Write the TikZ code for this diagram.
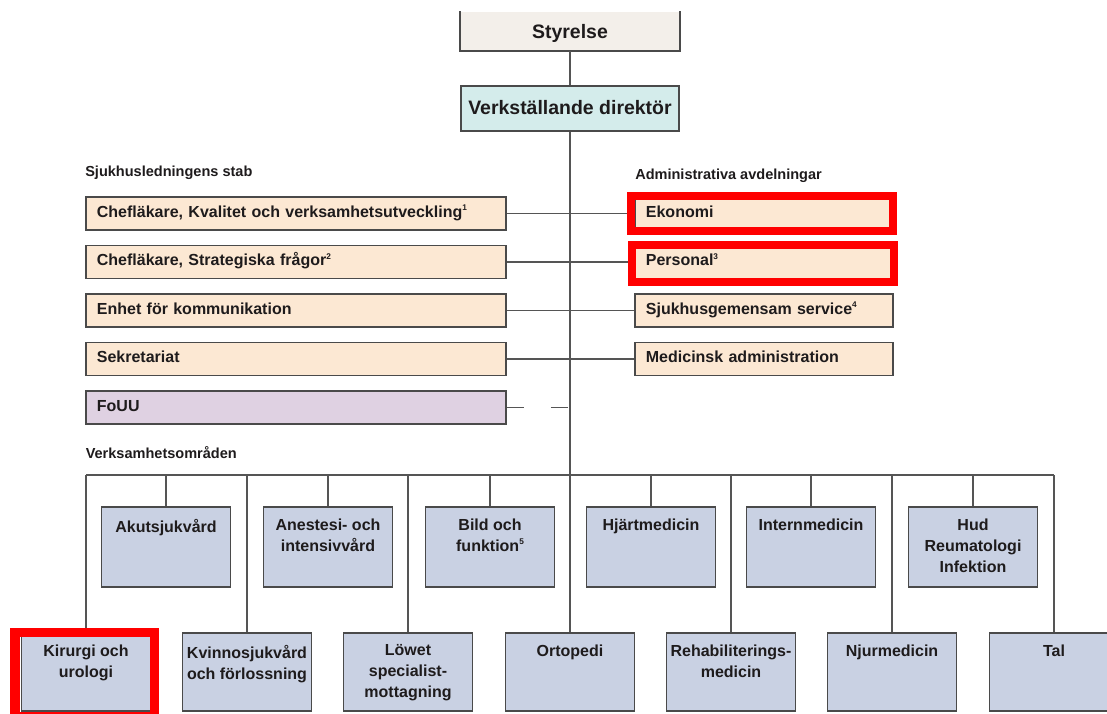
\documentclass[tikz,border=0pt]{standalone}
\usepackage{fontspec}
\setmainfont{Liberation Sans}
\usetikzlibrary{calc}
\newlength\px
\setlength\px{0.75pt}
\newcommand\fnmark[1]{\raisebox{0.42em}{\fontsize{6.2}{7}\selectfont #1}}
\definecolor{textgrey}{HTML}{1E1B1C}
\definecolor{linegrey}{HTML}{555555}
\definecolor{boxedge}{HTML}{4A4A4A}
\definecolor{stabfill}{HTML}{FCE8D3}
\definecolor{foufill}{HTML}{DFD1E2}
\definecolor{unitfill}{HTML}{C9D1E3}
\definecolor{vdfill}{HTML}{D4ECEB}
\definecolor{boardfill}{HTML}{F3EFEA}
\definecolor{markred}{HTML}{FF0000}

\begin{document}
\begin{tikzpicture}[x=1\px, y=-1\px,
  every node/.style={text=textgrey},
  topbox/.style={line width=1.8\px, minimum width=218\px, inner sep=0pt, font=\bfseries\fontsize{14.6}{17}\selectfont},
  stabbox/.style={draw=boxedge, line width=1.8\px, fill=stabfill, anchor=west, text width=398\px, inner xsep=11\px, inner ysep=0pt,
    minimum height=33\px, align=left, text height=0.75em, text depth=0.19em, font=\bfseries\fontsize{12}{14}\selectfont},
  adminbox/.style={stabbox, text width=236\px},
  unitbox/.style={draw=boxedge, line width=1.8\px, fill=unitfill, minimum width=129\px, inner sep=0pt},
  unittext/.style={anchor=north, align=center, inner sep=0pt, yshift=-12.5\px, font=\bfseries\fontsize{12}{15.75}\selectfont},
  heading/.style={anchor=west, inner sep=0pt, font=\bfseries\fontsize{10.9}{13}\selectfont},
  link/.style={draw=linegrey, line width=1.6\px},
  redmark/.style={draw=markred, line width=8\px}]
\useasboundingbox (0,0) rectangle (1107,714);

% ledning
\node[topbox, fill=boardfill, minimum height=38\px, text depth=0pt] (board) at (570,31) {Styrelse};
\draw[boxedge, line width=1.8\px] (board.north west) -- (board.south west) -- (board.south east) -- (board.north east);
\node[topbox, draw=boxedge, fill=vdfill, minimum height=45\px, text depth=0.2em] (vd) at (570,108.5) {Verkställande direktör};
\draw[link] (board.south) -- (vd.north);

% stab och administration
\node[heading] (stabhead) at (85,173) {Sjukhusledningens stab};
\node[heading] (adminhead) at (635,176) {Administrativa avdelningar};
\node[stabbox] (kval) at (85,213.5) {Chefläkare, Kvalitet och verksamhetsutveckling\fnmark{1}};
\node[stabbox] (strat) at (85,262) {Chefläkare, Strategiska frågor\fnmark{2}};
\node[stabbox] (komm) at (85,310.5) {Enhet för kommunikation};
\node[stabbox] (sekr) at (85,359) {Sekretariat};
\node[stabbox, fill=foufill] (fouu) at (85,407.5) {FoUU};
\node[adminbox] (eko) at (634,213.5) {Ekonomi};
\node[adminbox] (pers) at (634,262) {Personal\fnmark{3}};
\node[adminbox] (serv) at (634,310.5) {Sjukhusgemensam service\fnmark{4}};
\node[adminbox] (medadm) at (634,359) {Medicinsk administration};
\draw[link] (kval.east) -- (eko.west);
\draw[link] (strat.east) -- (pers.west);
\draw[link] (komm.east) -- (serv.west);
\draw[link] (sekr.east) -- (medadm.west);
\draw[link, dash pattern=on 17\px off 27\px] (fouu.east) -- (fouu.east -| vd.south);

% verksamhetsomraden
\node[heading] (verkhead) at (85.5,453) {Verksamhetsområden};
\coordinate (barL) at (86,475);
\coordinate (barR) at (1054,475);
\node[unitbox, minimum height=80\px, label={[unittext]north:Akutsjukvård}] (akut) at (166,547) {};
\node[unitbox, minimum height=80\px, label={[unittext]north:{Anestesi- och\\intensivvård}}] (anest) at (328,547) {};
\node[unitbox, minimum height=80\px, label={[unittext]north:{Bild och\\funktion\fnmark{5}}}] (bild) at (490,547) {};
\node[unitbox, minimum height=80\px, label={[unittext]north:Hjärtmedicin}] (hjart) at (651,547) {};
\node[unitbox, minimum height=80\px, label={[unittext]north:Internmedicin}] (intern) at (811,547) {};
\node[unitbox, minimum height=80\px, label={[unittext]north:{Hud\\Reumatologi\\Infektion}}] (hud) at (973,547) {};
\node[unitbox, minimum height=78\px, label={[unittext]north:{Kirurgi och\\urologi}}] (kir) at (86,672) {};
\node[unitbox, minimum height=78\px, label={[unittext]north:{Kvinnosjukvård\\och förlossning}}] (kvinno) at (247,672) {};
\node[unitbox, minimum height=78\px, label={[unittext]north:{Löwet\\specialist-\\mottagning}}] (lowet) at (408,672) {};
\node[unitbox, minimum height=78\px, label={[unittext]north:Ortopedi}] (orto) at (570,672) {};
\node[unitbox, minimum height=78\px, label={[unittext]north:{Rehabiliterings-\\medicin}}] (rehab) at (731,672) {};
\node[unitbox, minimum height=78\px, label={[unittext]north:Njurmedicin}] (njur) at (892,672) {};
\node[unitbox, minimum height=78\px, label={[unittext]north:Tal}] (tal) at (1054,672) {};
\draw[link] (vd.south) -- (orto.north);
\draw[link] (barL) -- (barR);
\foreach \u in {akut,anest,bild,hjart,intern,hud,kir,kvinno,lowet,rehab,njur,tal}
  \draw[link] (\u.north) -- (\u.north |- barL);

% markeringar
\draw[redmark] (631,196) rectangle (893,231);
\draw[redmark] (632,245) rectangle (894,282);
\draw[redmark, line width=9.5\px] (15,632.5) rectangle (154.5,717);
\end{tikzpicture}
\end{document}
